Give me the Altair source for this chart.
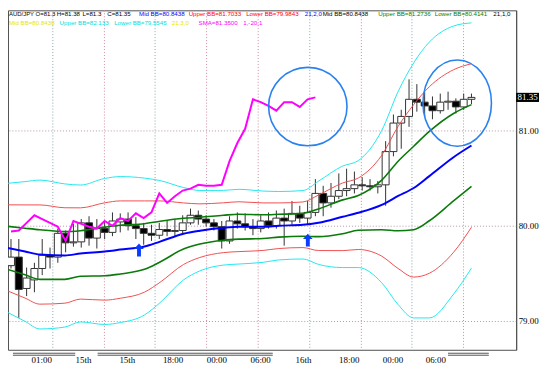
import altair as alt
import pandas as pd

# ---------------- data ----------------
candle_idx = list(range(-1, 59))
opens = [79.58, 79.67, 79.34, 79.43, 79.55, 79.69, 79.67, 79.92, 79.82, 79.83,
         80.03, 79.87, 79.97, 79.93, 80.04, 80.07, 80.00, 79.97, 79.92, 79.90,
         79.96, 79.94, 79.95, 80.03, 80.11, 80.07, 80.03, 79.99, 79.84, 80.05,
         80.02, 79.99, 79.97, 80.05, 80.00, 80.08, 80.05, 80.13, 80.08, 80.14,
         80.34, 80.24, 80.31, 80.37, 80.39, 80.43, 80.42, 80.41, 80.43, 80.78,
         81.08, 81.15, 81.33, 81.30, 81.26, 81.21, 81.30, 81.31, 81.25, 81.33]
highs = [79.86, 79.86, 79.56, 79.61, 79.86, 79.77, 79.97, 79.95, 80.02, 80.07,
         80.10, 80.07, 80.05, 80.14, 80.13, 80.14, 80.09, 80.03, 80.01, 80.03,
         80.05, 80.07, 80.11, 80.18, 80.16, 80.11, 80.07, 80.05, 80.10, 80.14,
         80.13, 80.07, 80.11, 80.14, 80.16, 80.18, 80.26, 80.21, 80.26, 80.49,
         80.42, 80.45, 80.55, 80.60, 80.57, 80.51, 80.49, 80.47, 80.89, 81.17,
         81.22, 81.54, 81.49, 81.41, 81.36, 81.39, 81.41, 81.34, 81.39, 81.39]
lows = [79.55, 79.03, 79.26, 79.30, 79.48, 79.55, 79.61, 79.72, 79.78, 79.77,
        79.79, 79.76, 79.86, 79.89, 79.93, 79.95, 79.86, 79.80, 79.84, 79.86,
        79.89, 79.89, 79.92, 80.01, 80.01, 79.99, 79.95, 79.76, 79.81, 79.97,
        79.95, 79.90, 79.93, 79.97, 79.97, 79.79, 80.01, 80.03, 80.01, 80.10,
        80.10, 80.19, 80.28, 80.31, 80.34, 80.37, 80.37, 80.34, 80.21, 80.73,
        80.81, 81.04, 81.20, 81.15, 81.12, 81.18, 81.22, 81.18, 81.22, 81.28]
closes = [79.67, 79.33, 79.45, 79.55, 79.69, 79.67, 79.92, 79.82, 79.83, 80.03,
          79.87, 79.97, 79.93, 80.05, 80.07, 80.00, 79.97, 79.92, 79.90, 79.96,
          79.94, 79.95, 80.03, 80.11, 80.07, 80.03, 79.99, 79.84, 80.05, 80.02,
          79.99, 79.97, 80.05, 80.00, 80.08, 80.05, 80.13, 80.08, 80.14, 80.34,
          80.24, 80.31, 80.37, 80.39, 80.43, 80.42, 80.41, 80.43, 80.78, 81.08,
          81.15, 81.33, 81.30, 81.26, 81.21, 81.30, 81.31, 81.25, 81.33, 81.35]

# SMA(1) shifted -20 (magenta)
sma_idx = list(range(-1, 39))
sma_vals = [79.94, 79.95, 80.03, 80.11, 80.07, 80.03, 79.99, 79.84, 80.05, 80.02,
            79.99, 79.97, 80.05, 80.00, 80.08, 80.05, 80.13, 80.08, 80.14, 80.34,
            80.24, 80.31, 80.37, 80.39, 80.43, 80.42, 80.42, 80.43, 80.68, 80.87,
            81.02, 81.33, 81.30, 81.26, 81.21, 81.30, 81.30, 81.25, 81.33, 81.35]

# Bollinger bands (21) read at these bar positions
band_idx = [-1.6, 0.8, 2.7, 5.9, 7.9, 11, 13, 16.1, 18.1, 21.1, 23.2, 26.2, 28.2,
            31.3, 33.3, 36.4, 38.4, 41.5, 43.5, 46.5, 48.6, 50.6, 52.6, 55.7, 58]
upper3 = [80.445, 80.464, 80.480, 80.440, 80.428, 80.497, 80.517, 80.501, 80.475, 80.402,
          80.371, 80.372, 80.383, 80.365, 80.360, 80.370, 80.469, 80.628, 80.685, 81.002,
          81.411, 81.714, 81.932, 82.101, 82.134]
upper2 = [80.220, 80.219, 80.219, 80.189, 80.188, 80.241, 80.261, 80.261, 80.261, 80.240,
          80.230, 80.241, 80.252, 80.240, 80.240, 80.250, 80.323, 80.450, 80.502, 80.741,
          81.045, 81.275, 81.462, 81.641, 81.704]
upper1 = [79.995, 79.974, 79.958, 79.938, 79.948, 79.985, 80.005, 80.021, 80.047, 80.078,
          80.089, 80.110, 80.121, 80.115, 80.120, 80.130, 80.177, 80.272, 80.319, 80.480,
          80.679, 80.836, 80.992, 81.181, 81.274]
mid_bb = [79.770, 79.729, 79.697, 79.687, 79.708, 79.729, 79.749, 79.781, 79.833, 79.916,
          79.948, 79.979, 79.990, 79.990, 80.000, 80.010, 80.031, 80.094, 80.136, 80.219,
          80.313, 80.397, 80.522, 80.721, 80.844]
lower1 = [79.545, 79.484, 79.436, 79.436, 79.468, 79.473, 79.493, 79.541, 79.619, 79.754,
          79.807, 79.848, 79.859, 79.865, 79.880, 79.890, 79.885, 79.916, 79.953, 79.958,
          79.947, 79.958, 80.052, 80.261, 80.414]
lower2 = [79.320, 79.239, 79.175, 79.185, 79.228, 79.217, 79.237, 79.301, 79.405, 79.592,
          79.666, 79.717, 79.728, 79.740, 79.760, 79.770, 79.739, 79.738, 79.750, 79.680,
          79.550, 79.460, 79.500, 79.720, 79.984]
lower3 = [79.095, 78.994, 78.914, 78.934, 78.988, 78.961, 78.981, 79.061, 79.191, 79.430,
          79.525, 79.586, 79.597, 79.615, 79.640, 79.650, 79.593, 79.560, 79.560, 79.400,
          79.170, 79.030, 79.030, 79.280, 79.554]

# time axis
time_pos = [2.87, 8.23, 13.84, 19.70, 25.31, 30.92, 36.41, 42.27, 47.88, 53.37]
time_labels = ["01:00", "15th", "15th", "18:00", "00:00", "06:00", "16th", "18:00", "00:00", "06:00"]
grid_idx = [4.36, 10.97, 17.46, 24.06, 30.67, 37.28, 43.89, 50.37, 56.98]
sep_start = [-0.75, 10.10, 54.99]
sep_end = [7.23, 32.54, 60.22]

# annotations
circle_idx = [37.03]
circle_val = [81.253]
ellipse_idx = [56.17]
ellipse_val = [81.29]
arrow_idx = [15.40, 37.03]
arrow_val = [79.744, 79.849]
last_price = [81.35]
last_label = ["81.35"]

row1_text = ["AUD/JPY O=81.3", "H=81.38", "L=81.3", "C=81.35", "Mid BB=80.8438",
             "Upper BB=81.7033", "Lower BB=79.9843", "21,2,0", "Mid BB=80.8438",
             "Upper BB=81.2736", "Lower BB=80.4141", "21,1,0"]
row2_text = ["Mid BB=80.8438", "Upper BB=82.133", "Lower BB=79.5545", "21,3,0",
             "SMA=81.3500", "1,-20,1"]

# ---------------- layout / style ----------------
row1_color = ["#000000", "#000000", "#000000", "#000000", "#0000ff", "#ff0000", "#ff0000",
              "#0000ff", "#000000", "#008000", "#008000", "#000000"]
row1_x = [1, 49, 75, 100, 132, 182, 240, 299, 317, 373, 430, 489]
row1_size = [6.0] + [6.2] * 11
row2_color = ["#e6e600", "#00dede", "#00dede", "#e6e600", "#ff00ff", "#ff00ff"]
row2_x = [1, 52, 107, 165, 192, 237]
row2_size = [6.2] * 6
grid_colors = ["#8aa6b0", "#d08aa0", "#8aa6b0", "#d08aa0", "#d08aa0", "#8aa6b0",
               "#d08aa0", "#8aa6b0", "#d08aa0"]
AX_FONT = "Liberation Serif"
HD_FONT = "Liberation Sans"

xs = alt.Scale(domain=[-0.748, 63.09], nice=False, zero=False)
ys = alt.Scale(domain=[78.695, 82.266], nice=False, zero=False)

keys = [round(p * 100) for p in time_pos]
label_expr = ("[" + ",".join("'%s'" % t for t in time_labels) + "][indexof(["
              + ",".join(str(k) for k in keys) + "], round(datum.value*100))]")

x_axis = alt.Axis(values=time_pos, labelExpr=label_expr, domain=False, ticks=False,
                  grid=False, labelFont=AX_FONT, labelFontSize=9, labelColor="black",
                  labelPadding=10, labelBaseline="middle", labelAlign="center",
                  labelOverlap=False, labelFlush=False, title=None)
y_axis = alt.Axis(orient="right", values=[79, 80, 81], format=".2f", grid=True,
                  gridColor="#b498a8", gridDash=[1, 2], domain=True, domainColor="#505050",
                  ticks=False, labelFont=AX_FONT, labelFontSize=9, labelColor="black",
                  labelPadding=2, title=None)


def X(f="i"):
    return alt.X(f + ":Q", scale=xs, axis=x_axis)


def Y(f="v"):
    return alt.Y(f + ":Q", scale=ys, axis=y_axis)


layers = []

# vertical dotted grid
grid_df = pd.DataFrame({"i": grid_idx, "c": grid_colors})
layers.append(alt.Chart(grid_df).mark_rule(strokeDash=[1, 2], strokeWidth=1).encode(
    x=X(), color=alt.Color("c:N", scale=None)))

# period separators under the plot
sep_df = pd.DataFrame({"i": sep_start, "i2": sep_end})
for yy in (345.5, 347.5):
    layers.append(alt.Chart(sep_df).mark_rule(color="#555555", strokeWidth=1).encode(
        x=X(), x2="i2:Q", y=alt.value(yy)))

# candles
cdf = pd.DataFrame({"i": candle_idx, "open": opens, "high": highs, "low": lows, "close": closes})
layers.append(alt.Chart(cdf).mark_rule(color="#333333", strokeWidth=1, clip=True).encode(
    x=X(), y=Y("low"), y2="high:Q"))
layers.append(alt.Chart(cdf).mark_bar(size=7, stroke="#333333", strokeWidth=1, clip=True).encode(
    x=X(), y=Y("open"), y2="close:Q",
    fill=alt.condition("datum.close >= datum.open", alt.value("white"), alt.value("black"))))

# bands
band_specs = [
    (upper3, "#22e8f0", 1.0), (lower3, "#22e8f0", 1.0),
    (upper2, "#f05050", 1.0), (lower2, "#f05050", 1.0),
    (upper1, "#0a7a0a", 1.6), (lower1, "#0a7a0a", 1.6),
    (mid_bb, "#0000ff", 2.0),
]
for vals, col, w in band_specs:
    df = pd.DataFrame({"i": band_idx, "v": vals})
    layers.append(alt.Chart(df).mark_line(color=col, strokeWidth=w, interpolate="monotone",
                                          clip=True).encode(x=X(), y=Y()))

# magenta shifted SMA
sdf = pd.DataFrame({"i": sma_idx, "v": sma_vals})
layers.append(alt.Chart(sdf).mark_line(color="#ff00ff", strokeWidth=2, clip=True).encode(
    x=X(), y=Y()))

# circles
cdf1 = pd.DataFrame({"i": circle_idx, "v": circle_val})
layers.append(alt.Chart(cdf1).mark_point(shape="circle", size=6241, filled=False, color="#2a82f0",
                                         strokeWidth=1.6, opacity=1).encode(x=X(), y=Y()))
cdf2 = pd.DataFrame({"i": ellipse_idx, "v": ellipse_val})
ellipse_path = "M-1,0 A1,1.26 0 1,1 1,0 A1,1.26 0 1,1 -1,0 Z"
layers.append(alt.Chart(cdf2).mark_point(shape=ellipse_path, size=4761, filled=False, color="#2a82f0",
                                         strokeWidth=1.6, opacity=1).encode(x=X(), y=Y()))

# arrows
adf = pd.DataFrame({"i": arrow_idx, "v": arrow_val})
arrow_path = "M0,-1 L0.75,-0.15 L0.3,-0.15 L0.3,1 L-0.3,1 L-0.3,-0.15 L-0.75,-0.15 Z"
layers.append(alt.Chart(adf).mark_point(shape=arrow_path, size=169, filled=True, color="#0a3cff",
                                        opacity=1, strokeWidth=0).encode(x=X(), y=Y()))

# last price tag on the right axis
pdf = pd.DataFrame({"v": last_price, "t": last_label})
tag_path = "M-1,-0.4 L1,-0.4 L1,0.4 L-1,0.4 Z"
layers.append(alt.Chart(pdf).mark_point(shape=tag_path, size=529, filled=True, color="black",
                                        opacity=1, strokeWidth=0).encode(x=alt.value(523.5), y=Y()))
layers.append(alt.Chart(pdf).mark_text(color="white", font=AX_FONT, fontSize=9, align="center",
                                       baseline="middle").encode(x=alt.value(523.5), y=Y(), text="t:N"))

# header texts
for texts, cols, xsx, sizes, yy in ((row1_text, row1_color, row1_x, row1_size, 4.0),
                                    (row2_text, row2_color, row2_x, row2_size, 12.5)):
    for t, c, xx, fs in zip(texts, cols, xsx, sizes):
        layers.append(alt.Chart(alt.Data(values=[{}])).mark_text(
            align="left", baseline="middle", font=HD_FONT, fontSize=fs, color=c).encode(
            x=alt.value(xx), y=alt.value(yy), text=alt.value(t)))

chart = alt.layer(*layers).properties(
    width=512, height=342, background="white", padding=0,
).configure_view(stroke="#505050", strokeWidth=1)

chart.save("out.html", embed_options={"renderer": "svg", "actions": False})
